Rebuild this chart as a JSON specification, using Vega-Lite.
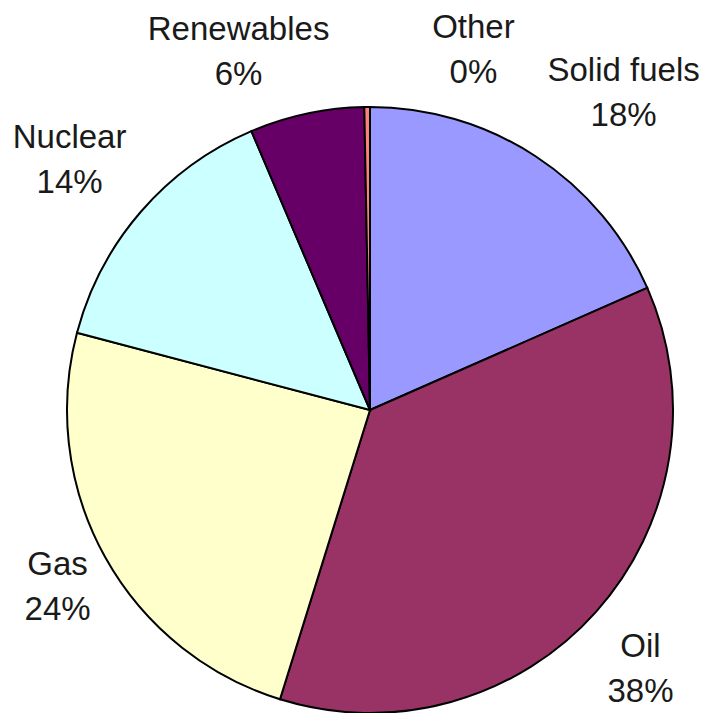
{
  "$schema": "https://vega.github.io/schema/vega-lite/v6.json",
  "width": 674,
  "height": 606,
  "padding": {"left": 33, "top": 107, "right": 0, "bottom": 0},
  "autosize": {"type": "none"},
  "background": "white",
  "config": {"view": {"stroke": null}},
  "data": {
    "values": [
      {"name": "Solid fuels", "ord": 1, "value": 18.4, "label": "Solid fuels\n18%"},
      {"name": "Oil", "ord": 2, "value": 36.4, "label": "Oil\n38%"},
      {"name": "Gas", "ord": 3, "value": 24.3, "label": "Gas\n24%"},
      {"name": "Nuclear", "ord": 4, "value": 14.5, "label": "Nuclear\n14%"},
      {"name": "Renewables", "ord": 5, "value": 6.1, "label": "Renewables\n6%"},
      {"name": "Other", "ord": 6, "value": 0.3, "label": "Other\n0%"}
    ]
  },
  "encoding": {
    "theta": {"field": "value", "type": "quantitative", "stack": true},
    "order": {"field": "ord", "type": "quantitative"}
  },
  "layer": [
    {
      "mark": {"type": "arc", "outerRadius": 303, "stroke": "black", "strokeWidth": 2},
      "encoding": {
        "color": {
          "field": "name",
          "type": "nominal",
          "legend": null,
          "scale": {
            "domain": ["Solid fuels", "Oil", "Gas", "Nuclear", "Renewables", "Other"],
            "range": ["#9999FF", "#993366", "#FFFFCC", "#CCFFFF", "#660066", "#FF8080"]
          }
        }
      }
    },
    {
      "mark": {"type": "text", "radius": 380, "dx": 46, "dy": -21, "fontSize": 33, "font": "Liberation Sans", "lineBreak": "\n", "lineHeight": 45, "align": "center", "baseline": "middle", "color": "#1a1a1a"},
      "encoding": {"text": {"condition": {"test": "datum.name === 'Solid fuels'", "field": "label"}, "value": ""}}
    },
    {
      "mark": {"type": "text", "radius": 380, "dx": -13, "dy": -16, "fontSize": 33, "font": "Liberation Sans", "lineBreak": "\n", "lineHeight": 45, "align": "center", "baseline": "middle", "color": "#1a1a1a"},
      "encoding": {"text": {"condition": {"test": "datum.name === 'Oil'", "field": "label"}, "value": ""}}
    },
    {
      "mark": {"type": "text", "radius": 380, "dx": 20, "dy": -29, "fontSize": 33, "font": "Liberation Sans", "lineBreak": "\n", "lineHeight": 45, "align": "center", "baseline": "middle", "color": "#1a1a1a"},
      "encoding": {"text": {"condition": {"test": "datum.name === 'Gas'", "field": "label"}, "value": ""}}
    },
    {
      "mark": {"type": "text", "radius": 380, "dx": -13, "dy": -23, "fontSize": 33, "font": "Liberation Sans", "lineBreak": "\n", "lineHeight": 45, "align": "center", "baseline": "middle", "color": "#1a1a1a"},
      "encoding": {"text": {"condition": {"test": "datum.name === 'Nuclear'", "field": "label"}, "value": ""}}
    },
    {
      "mark": {"type": "text", "radius": 380, "dx": -52, "dy": -8, "fontSize": 33, "font": "Liberation Sans", "lineBreak": "\n", "lineHeight": 45, "align": "center", "baseline": "middle", "color": "#1a1a1a"},
      "encoding": {"text": {"condition": {"test": "datum.name === 'Renewables'", "field": "label"}, "value": ""}}
    },
    {
      "mark": {"type": "text", "radius": 380, "dx": 107, "dy": -2, "fontSize": 33, "font": "Liberation Sans", "lineBreak": "\n", "lineHeight": 45, "align": "center", "baseline": "middle", "color": "#1a1a1a"},
      "encoding": {"text": {"condition": {"test": "datum.name === 'Other'", "field": "label"}, "value": ""}}
    }
  ]
}
